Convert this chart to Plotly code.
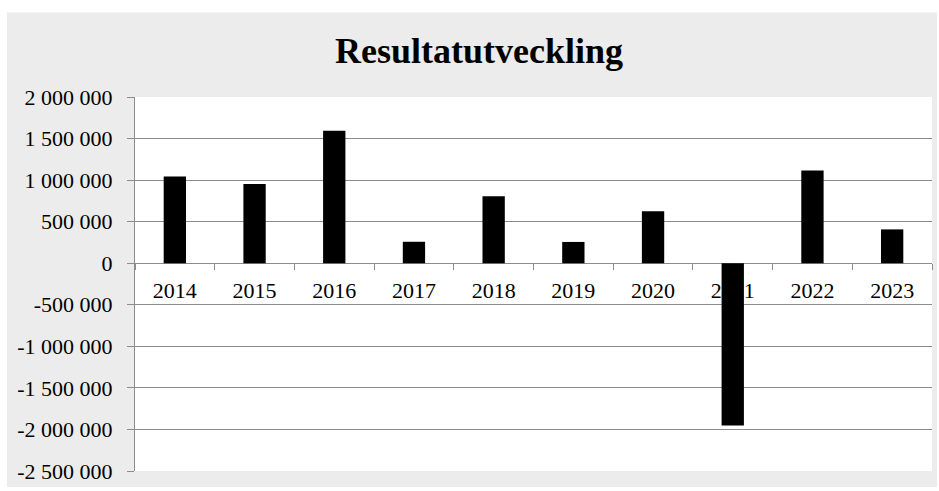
import plotly.graph_objects as go

years = ["2014", "2015", "2016", "2017", "2018", "2019", "2020", "2021", "2022", "2023"]
result = [1044000, 953000, 1594000, 258000, 805000, 256000, 626000, -1953000, 1116000, 407000]
y_ticks = [2000000, 1500000, 1000000, 500000, 0, -500000, -1000000, -1500000, -2000000, -2500000]
y_tick_labels = ["2 000 000", "1 500 000", "1 000 000", "500 000", "0", "-500 000",
                 "-1 000 000", "-1 500 000", "-2 000 000", "-2 500 000"]
title_text = "Resultatutveckling"

W, H = 939, 491
L, R, T, B = 135, 7, 97, 18
ymin, ymax = -2500000, 2000000
zero_pos = (0 - ymin) / (ymax - ymin)

pw = W - L - R
ph = H - T - B

def px_x(p):
    return (p - L) / pw

def px_y(p):
    return (H - B - p) / ph

font_family = "Liberation Serif, Times New Roman, serif"
grid_col = "#8c8c8c"

fig = go.Figure(go.Bar(
    x=years, y=result,
    marker=dict(color="black", line=dict(width=0)),
    width=0.28,
))

fig.update_layout(
    width=W, height=H,
    margin=dict(l=L, r=R, t=T, b=B),
    paper_bgcolor="white",
    plot_bgcolor="white",
    showlegend=False,
    font=dict(family=font_family, color="black", size=22),
    title=dict(text="<b>" + title_text + "</b>", font=dict(family=font_family, size=36, color="black"),
               x=479 / W, xanchor="center", xref="container",
               y=1 - 50 / H, yanchor="middle", yref="container"),
    shapes=[
        dict(type="rect", xref="paper", yref="paper", layer="below",
             x0=px_x(7), x1=px_x(937), y0=px_y(489), y1=px_y(12),
             fillcolor="#ececec", line=dict(width=0)),
        dict(type="rect", xref="paper", yref="paper", layer="below",
             x0=0, x1=1, y0=0, y1=1,
             fillcolor="white", line=dict(width=0)),
    ],
    xaxis=dict(
        anchor="free", position=zero_pos,
        showline=True, linecolor=grid_col, linewidth=1,
        ticks="outside", ticklen=6, tickcolor=grid_col, tickson="boundaries",
        showgrid=False, zeroline=False,
        layer="below traces",
        tickfont=dict(size=22, family=font_family),
        ticklabelstandoff=7,
    ),
    yaxis=dict(
        range=[ymin, ymax],
        tickvals=y_ticks, ticktext=y_tick_labels,
        showline=True, linecolor=grid_col, linewidth=1,
        ticks="outside", ticklen=7, tickcolor=grid_col,
        showgrid=True, gridcolor=grid_col, gridwidth=1,
        zeroline=False,
        tickfont=dict(size=22, family=font_family),
        ticklabelstandoff=10,
    ),
    bargap=0.72,
)

fig.write_html("out.html")
